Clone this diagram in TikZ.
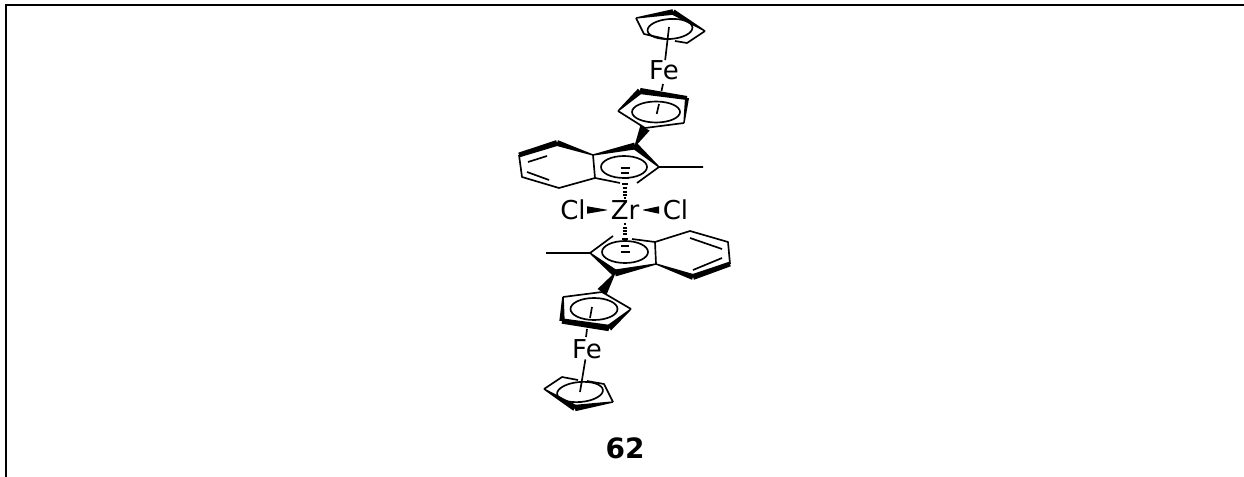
\documentclass[tikz,border=0pt]{standalone}
\usepackage{fontspec}
\setmainfont{DejaVu Sans}
\usetikzlibrary{calc}
\tikzset{
  atom/.style={font=\fontsize{19.5pt}{22pt}\selectfont,inner sep=0pt},
  bond/.style={line width=1.25pt,line join=round},
  ringcircle/.style={line width=1.25pt},
  hash/.style={line width=1.1pt},
  label node/.style={font=\fontsize{21pt}{24pt}\selectfont\bfseries,inner sep=0pt}
}
% tapered bond: from, to, half width at from, half width at to
\newcommand{\taper}[4]{\fill[line join=round] ($(#1)!#3!90:(#2)$) -- ($(#1)!#3!-90:(#2)$) -- ($(#2)!#4!90:(#1)$) -- ($(#2)!#4!-90:(#1)$) -- cycle;}
\begin{document}
\begin{tikzpicture}[x=0.75pt,y=-0.75pt]
  \useasboundingbox (0,0) rectangle (1244,477);
  \fill[white] (0,0) rectangle (1244,477);
  \draw[line width=1.6pt] (6,477) -- (6,5) -- (1244,5);
  % atoms
  \node [atom] (fe1) at (664,70) {Fe};
  \node [atom] (zr) at (625,210) {Zr};
  \node [atom] (cl1) at (573,210) {Cl};
  \node [atom] (cl2) at (675.5,210) {Cl};
  \node [atom] (fe2) at (587,349.5) {Fe};
  \node [label node] (num) at (625,448) {62};
  % top ring
  \coordinate (a1) at (636,18);
  \coordinate (a2) at (673,12);
  \coordinate (a3) at (705,31);
  \coordinate (a4) at (687,43);
  \coordinate (a5) at (644,34);
  \coordinate (a6) at (666,39);
  \coordinate (a7) at (675,41);
  \coordinate (ac) at (669,27);
  \draw [bond] (a3) -- (a4) -- (a7) (a6) -- (a5) -- (a1);
  \taper{a1}{a2}{0.5pt}{2.1pt}
  \taper{a2}{a3}{2.1pt}{0.5pt}
  \draw [ringcircle,rotate around={4:(670,29)}] (670,29) ellipse (22.5 and 10);
  \draw [bond] (ac) -- (fe1);
  % second ring
  \coordinate (b1) at (618,111);
  \coordinate (b2) at (640,91);
  \coordinate (b3) at (687,98);
  \coordinate (b4) at (684,123);
  \coordinate (b5) at (645,128);
  \coordinate (b6) at (663,84);
  \coordinate (b7) at (661.5,91);
  \coordinate (b8) at (659,104);
  \coordinate (bc) at (656.7,114);
  \draw [bond] (b1) -- (b5) -- (b4);
  \taper{b1}{b2}{0.5pt}{2.3pt}
  \taper{b2}{b3}{2.3pt}{1.5pt}
  \taper{b3}{b4}{1.5pt}{0.5pt}
  \draw [ringcircle] (656,112) ellipse (24 and 10.5);
  \draw [bond] (b6) -- (b7) (b8) -- (bc);
  % upper indenyl
  \coordinate (c1) at (635,146);
  \coordinate (c2) at (659,167);
  \coordinate (c3) at (637,183);
  \coordinate (c4) at (595,178);
  \coordinate (c5) at (593,155);
  \coordinate (c6) at (557,143);
  \coordinate (c7) at (519,155);
  \coordinate (c8) at (522,177);
  \coordinate (c9) at (559,188);
  \coordinate (cm) at (703,167);
  \coordinate (c10) at (620,183);
  \taper{c1}{b5}{0.4pt}{4pt}
  \draw [bond] (c2) -- (c3) (c10) -- (c4) -- (c5) (c7) -- (c8) -- (c9) -- (c4) (c2) -- (cm);
  \taper{c5}{c1}{0.5pt}{2.6pt}
  \taper{c1}{c2}{2.6pt}{0.5pt}
  \taper{c5}{c6}{0.5pt}{2.2pt}
  \taper{c6}{c7}{2.2pt}{1.8pt}
  \draw [bond] (528,162) -- (547,156) (527,172) -- (549,180);
  \draw [ringcircle] (624,167) ellipse (23 and 11);
  % lower indenyl
  \coordinate (d1) at (613,236);
  \coordinate (d2) at (590,253);
  \coordinate (d3) at (615,273);
  \coordinate (d4) at (656,264);
  \coordinate (d5) at (655,242);
  \coordinate (d6) at (690,231);
  \coordinate (d7) at (728,242);
  \coordinate (d8) at (730,264);
  \coordinate (d9) at (693,277);
  \coordinate (dm) at (546,253);
  \coordinate (d10) at (632,239);
  \draw [bond] (d2) -- (d1) (d10) -- (d5) -- (d4) (d5) -- (d6) -- (d7) -- (d8) (d2) -- (dm);
  \taper{d2}{d3}{0.5pt}{2.6pt}
  \taper{d3}{d4}{2.6pt}{0.5pt}
  \taper{d4}{d9}{0.5pt}{2.2pt}
  \taper{d9}{d8}{2.2pt}{1.8pt}
  \draw [bond] (690,238) -- (722,249) (693,270) -- (722,258);
  \draw [ringcircle] (625,252) ellipse (23 and 11);
  % hashed bonds to zr
  \foreach \y/\w in {168/4.5,173/4,178/3.5,184/2.6,188/2.2,192/1.9,195/1.6,198/1.3}
    \draw [hash] (625-\w,\y) -- (625+\w,\y);
  \foreach \y/\w in {224/1.3,228/1.6,231/1.9,234/2.2,239/3,246/4,252/4.5}
    \draw [hash] (625-\w,\y) -- (625+\w,\y);
  % cl wedges
  \coordinate (e1) at (607,210);
  \coordinate (e2) at (587,210);
  \coordinate (e3) at (643,210);
  \coordinate (e4) at (659,210);
  \taper{e1}{e2}{0.2pt}{2.8pt}
  \taper{e3}{e4}{0.2pt}{2.8pt}
  % third ring
  \coordinate (f1) at (563,297);
  \coordinate (f2) at (602,292);
  \coordinate (f3) at (631,309);
  \coordinate (f4) at (609,328);
  \coordinate (f5) at (562,321);
  \coordinate (f6) at (592,307);
  \coordinate (f7) at (590,318);
  \coordinate (f8) at (587,329);
  \coordinate (f9) at (586,337);
  \draw [bond] (f1) -- (f2) -- (f3);
  \taper{d3}{f2}{0.4pt}{4pt}
  \taper{f1}{f5}{0.6pt}{2pt}
  \taper{f5}{f4}{2pt}{2.4pt}
  \taper{f4}{f3}{2.4pt}{0.5pt}
  \draw [ringcircle] (594,309) ellipse (23.5 and 11);
  \draw [bond] (f6) -- (f7) (f8) -- (f9);
  % bottom ring
  \coordinate (g1) at (544,389);
  \coordinate (g2) at (562,377);
  \coordinate (g3) at (604,384);
  \coordinate (g4) at (613,402);
  \coordinate (g5) at (575,408);
  \coordinate (g6) at (578,380);
  \coordinate (g7) at (587,381);
  \coordinate (gc) at (580,392);
  \draw [bond] (g6) -- (g2) -- (g1) (g7) -- (g3) -- (g4);
  \taper{g1}{g5}{0.5pt}{2.4pt}
  \taper{g5}{g4}{2.4pt}{0.5pt}
  \draw [ringcircle,rotate around={5:(580,392)}] (580,392) ellipse (23 and 10);
  \draw [bond] (gc) -- (fe2);
\end{tikzpicture}
\end{document}
